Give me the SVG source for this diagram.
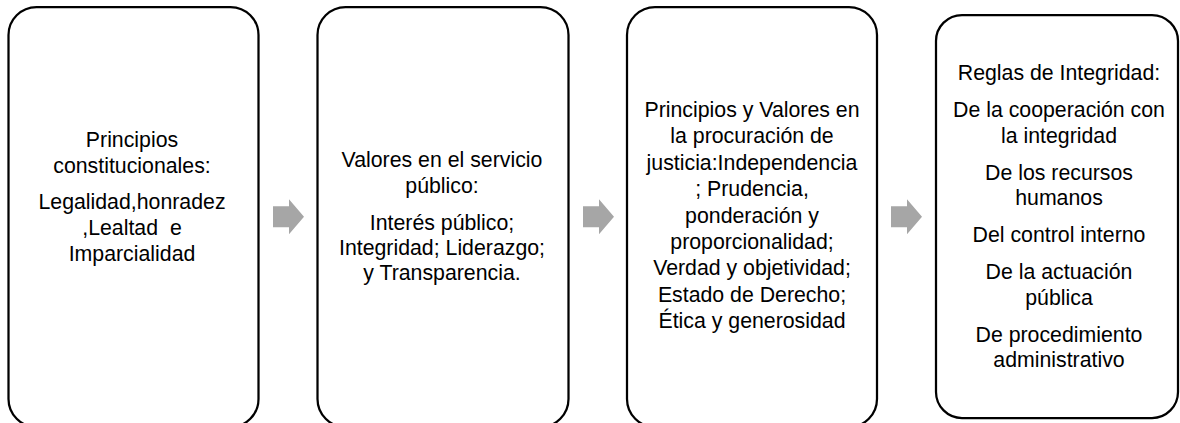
<svg xmlns="http://www.w3.org/2000/svg" width="1180" height="423" viewBox="0 0 1180 423">
  <style>
    .box { fill: #ffffff; stroke: #000000; stroke-width: 2.25; }
    .t { font-family: "Liberation Sans", Arial, sans-serif; font-size: 21.3px; fill: #000000; text-anchor: middle; }
    .arrow { fill: #A6A6A6; stroke: none; }
  </style>
  <defs>
    <polygon id="blockArrow" points="0,-10.5 16,-10.5 16,-17.5 31,0 16,17.5 16,10.5 0,10.5"/>
  </defs>
  <rect width="1180" height="423" fill="#ffffff"/>

  <g id="connectors">
    <use href="#blockArrow" class="arrow" x="273" y="216.7"/>
    <use href="#blockArrow" class="arrow" x="583" y="216.7"/>
    <use href="#blockArrow" class="arrow" x="891" y="216.7"/>
  </g>

  <g id="node-principios">
    <rect class="box" x="8.5" y="7" width="250" height="420" rx="28" ry="28"/>
    <text class="t" x="132" y="147">Principios</text>
    <text class="t" x="132" y="172.5">constitucionales:</text>
    <text class="t" x="132" y="208.5">Legalidad,honradez</text>
    <text class="t" x="132" y="234.5" xml:space="preserve">,Lealtad  e</text>
    <text class="t" x="132" y="260.5">Imparcialidad</text>
  </g>

  <g id="node-valores">
    <rect class="box" x="317.5" y="7" width="251" height="420" rx="28" ry="28"/>
    <text class="t" x="442" y="167">Valores en el servicio</text>
    <text class="t" x="442" y="193">público:</text>
    <text class="t" x="442" y="230">Interés público;</text>
    <text class="t" x="442" y="255">Integridad; Liderazgo;</text>
    <text class="t" x="442" y="280">y Transparencia.</text>
  </g>

  <g id="node-procuracion">
    <rect class="box" x="627" y="7" width="250" height="420" rx="28" ry="28"/>
    <text class="t" x="752" y="117">Principios y Valores en</text>
    <text class="t" x="752" y="143.4">la procuración de</text>
    <text class="t" x="752" y="169.8">justicia:Independencia</text>
    <text class="t" x="752" y="196.1">; Prudencia,</text>
    <text class="t" x="752" y="222.5">ponderación y</text>
    <text class="t" x="752" y="248.9">proporcionalidad;</text>
    <text class="t" x="752" y="275.3">Verdad y objetividad;</text>
    <text class="t" x="752" y="301.6">Estado de Derecho;</text>
    <text class="t" x="752" y="328">Ética y generosidad</text>
  </g>

  <g id="node-reglas">
    <rect class="box" x="936" y="15" width="242" height="403" rx="26" ry="26"/>
    <text class="t" x="1059" y="80">Reglas de Integridad:</text>
    <text class="t" x="1059" y="117">De la cooperación con</text>
    <text class="t" x="1059" y="142.5">la integridad</text>
    <text class="t" x="1059" y="179.5">De los recursos</text>
    <text class="t" x="1059" y="205">humanos</text>
    <text class="t" x="1059" y="242">Del control interno</text>
    <text class="t" x="1059" y="279">De la actuación</text>
    <text class="t" x="1059" y="304.5">pública</text>
    <text class="t" x="1059" y="341.5">De procedimiento</text>
    <text class="t" x="1059" y="367">administrativo</text>
  </g>
</svg>
